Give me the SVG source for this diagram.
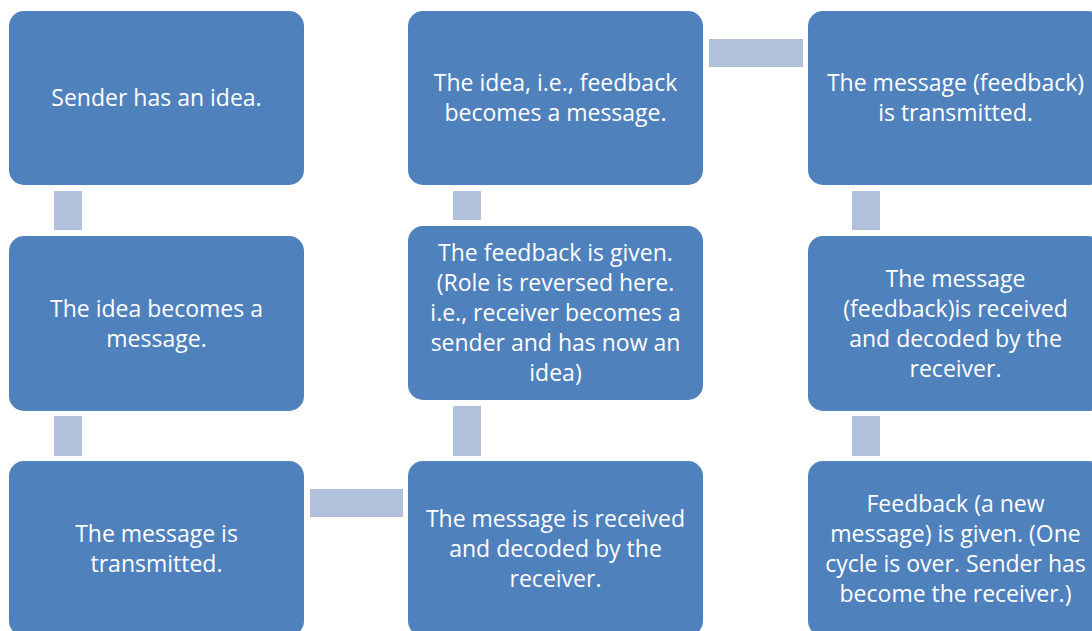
<svg xmlns="http://www.w3.org/2000/svg" width="1092" height="631" viewBox="0 0 1092 631">
<style>
.box{fill:#4f81bd;}
.con{fill:#b2c1db;}
text{font-family:"Open Sans","Noto Sans",sans-serif;font-size:23px;fill:#ffffff;text-anchor:middle;}
</style>
<rect width="1092" height="631" fill="#ffffff"/>
<g id="connectors">
<rect class="con" x="54" y="191" width="28" height="39"/>
<rect class="con" x="54" y="416" width="28" height="40"/>
<rect class="con" x="310" y="489" width="93" height="28"/>
<rect class="con" x="453" y="406" width="28" height="50"/>
<rect class="con" x="453" y="191" width="28" height="29"/>
<rect class="con" x="709" y="39" width="94" height="28"/>
<rect class="con" x="852" y="191" width="28" height="39"/>
<rect class="con" x="852" y="416" width="28" height="40"/>
</g>
<g id="n1">
<rect class="box" x="9" y="11" width="295" height="174" rx="15"/>
<text x="156.5" y="106">Sender has an idea.</text>
</g>
<g id="n2">
<rect class="box" x="9" y="236" width="295" height="175" rx="15"/>
<text x="156.5" y="316.5">The idea becomes a</text>
<text x="156.5" y="346.5">message.</text>
</g>
<g id="n3">
<rect class="box" x="9" y="461" width="295" height="175" rx="15"/>
<text x="156.5" y="541.5">The message is</text>
<text x="156.5" y="571.5">transmitted.</text>
</g>
<g id="n4">
<rect class="box" x="408" y="461" width="295" height="175" rx="15"/>
<text x="555.5" y="526.5">The message is received</text>
<text x="555.5" y="556.5">and decoded by the</text>
<text x="555.5" y="586.5">receiver.</text>
</g>
<g id="n5">
<rect class="box" x="408" y="226" width="295" height="174" rx="15"/>
<text x="555.5" y="261">The feedback is given.</text>
<text x="555.5" y="291">(Role is reversed here.</text>
<text x="555.5" y="321">i.e., receiver becomes a</text>
<text x="555.5" y="351">sender and has now an</text>
<text x="555.5" y="381">idea)</text>
</g>
<g id="n6">
<rect class="box" x="408" y="11" width="295" height="174" rx="15"/>
<text x="555.5" y="91">The idea, i.e., feedback</text>
<text x="555.5" y="121">becomes a message.</text>
</g>
<g id="n7">
<rect class="box" x="808" y="11" width="295" height="174" rx="15"/>
<text x="955.5" y="91">The message (feedback)</text>
<text x="955.5" y="121">is transmitted.</text>
</g>
<g id="n8">
<rect class="box" x="808" y="236" width="295" height="175" rx="15"/>
<text x="955.5" y="286.5">The message</text>
<text x="955.5" y="316.5">(feedback)is received</text>
<text x="955.5" y="346.5">and decoded by the</text>
<text x="955.5" y="376.5">receiver.</text>
</g>
<g id="n9">
<rect class="box" x="808" y="461" width="295" height="175" rx="15"/>
<text x="955.5" y="511.5">Feedback (a new</text>
<text x="955.5" y="541.5">message) is given. (One</text>
<text x="955.5" y="571.5">cycle is over. Sender has</text>
<text x="955.5" y="601.5">become the receiver.)</text>
</g>
</svg>
